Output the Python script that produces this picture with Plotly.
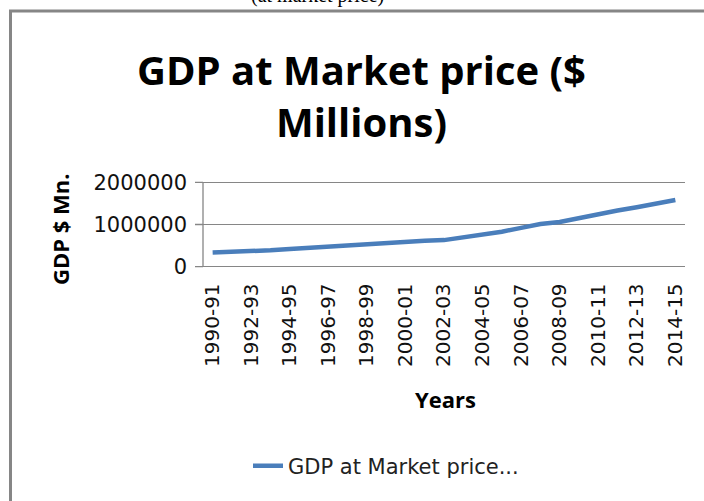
import plotly.graph_objects as go

years = ["1990-91", "1991-92", "1992-93", "1993-94", "1994-95", "1995-96",
         "1996-97", "1997-98", "1998-99", "1999-00", "2000-01", "2001-02",
         "2002-03", "2003-04", "2004-05", "2005-06", "2006-07", "2007-08",
         "2008-09", "2009-10", "2010-11", "2011-12", "2012-13", "2013-14",
         "2014-15"]
gdp = [335000, 345000, 365000, 390000, 420000, 450000, 480000, 500000,
       520000, 565000, 590000, 615000, 630000, 690000, 750000, 830000,
       920000, 1010000, 1060000, 1150000, 1260000, 1330000, 1410000,
       1500000, 1580000]
tick_labels = years[::2]
y_ticks = [0, 1000000, 2000000]

W, H = 704, 501
def px(x):
    return x / W
def py(y):
    return 1 - y / H

# vertical pixel placement of the value axis
Y_BOT, Y_TOP = 266.7, 182.3          # pixels of 0 and 2,000,000
YMAX = 2000000
PAD = 40000
ppu = (Y_BOT - Y_TOP) / YMAX
dom_bot = Y_BOT + PAD * ppu
dom_top = Y_TOP - PAD * ppu

TICKFONT = "DejaVu Sans"
BOLDFONT = "Open Sans"
GRID = "#868686"

fig = go.Figure()
fig.add_trace(go.Scatter(
    x=years, y=gdp, mode="lines", name="GDP at Market price...",
    line=dict(color="#4a7ebb", width=4.5),
))

fig.update_layout(
    width=W, height=H,
    margin=dict(l=0, r=0, t=0, b=0, autoexpand=False),
    paper_bgcolor="white", plot_bgcolor="white",
    showlegend=True,
    legend=dict(orientation="h", x=px(248), y=py(466), xanchor="left",
                yanchor="middle",
                font=dict(family=TICKFONT, size=21, color="#222"),
                bgcolor="rgba(0,0,0,0)"),
    xaxis=dict(type="category", range=[-0.5, len(years) - 0.5],
               domain=[px(203), px(685)], automargin=False,
               tickmode="array", tickvals=tick_labels, ticktext=tick_labels,
               tickangle=-90, ticklabelstandoff=10,
               tickfont=dict(family=TICKFONT, size=20, color="#111"),
               showgrid=False, showline=False, ticks="", zeroline=False),
    yaxis=dict(range=[-PAD, YMAX + PAD], domain=[py(dom_bot), py(dom_top)],
               automargin=False,
               tickmode="array", tickvals=y_ticks,
               ticktext=[str(v) for v in y_ticks], ticklabelstandoff=15,
               tickfont=dict(family=TICKFONT, size=21, color="#111"),
               showgrid=True, gridcolor=GRID, gridwidth=1.3,
               showline=False, ticks="", zeroline=False),
)

# value-axis line and its tick marks (Excel style)
fig.add_shape(type="line", xref="paper", yref="y", x0=px(203), x1=px(203),
              y0=0, y1=YMAX, line=dict(color=GRID, width=1.3))
for v in y_ticks:
    fig.add_shape(type="line", xref="paper", yref="y", x0=px(195),
                  x1=px(203), y0=v, y1=v, line=dict(color=GRID, width=1.3))

fig.add_annotation(text="<b>GDP at Market price ($<br>Millions)</b>",
                   xref="paper", yref="paper", x=px(361), y=py(95),
                   xanchor="center", yanchor="middle", showarrow=False,
                   font=dict(family=BOLDFONT, size=40, color="#000"))
fig.add_annotation(text="<b>GDP $ Mn.</b>", xref="paper", yref="paper",
                   x=px(60), y=py(229), textangle=-90, showarrow=False,
                   xanchor="center", yanchor="middle",
                   font=dict(family=BOLDFONT, size=22, color="#000"))
fig.add_annotation(text="<b>Years</b>", xref="paper", yref="paper",
                   x=px(445), y=py(399), showarrow=False,
                   xanchor="center", yanchor="middle",
                   font=dict(family=BOLDFONT, size=22, color="#000"))
fig.add_annotation(text="(at market price)", xref="paper", yref="paper",
                   x=px(317), y=py(9), showarrow=False,
                   xanchor="center", yanchor="bottom",
                   font=dict(family="Liberation Serif", size=20, color="#000"))

fig.add_shape(type="rect", xref="paper", yref="paper",
              x0=px(10.5), x1=1.1, y0=py(11), y1=-0.1,
              line=dict(color=GRID, width=3), fillcolor="rgba(0,0,0,0)",
              layer="below")

fig.write_html("out.html", config={"displayModeBar": False},
               post_script="document.body.style.margin='0px';"
                           "document.body.style.overflow='hidden';")
